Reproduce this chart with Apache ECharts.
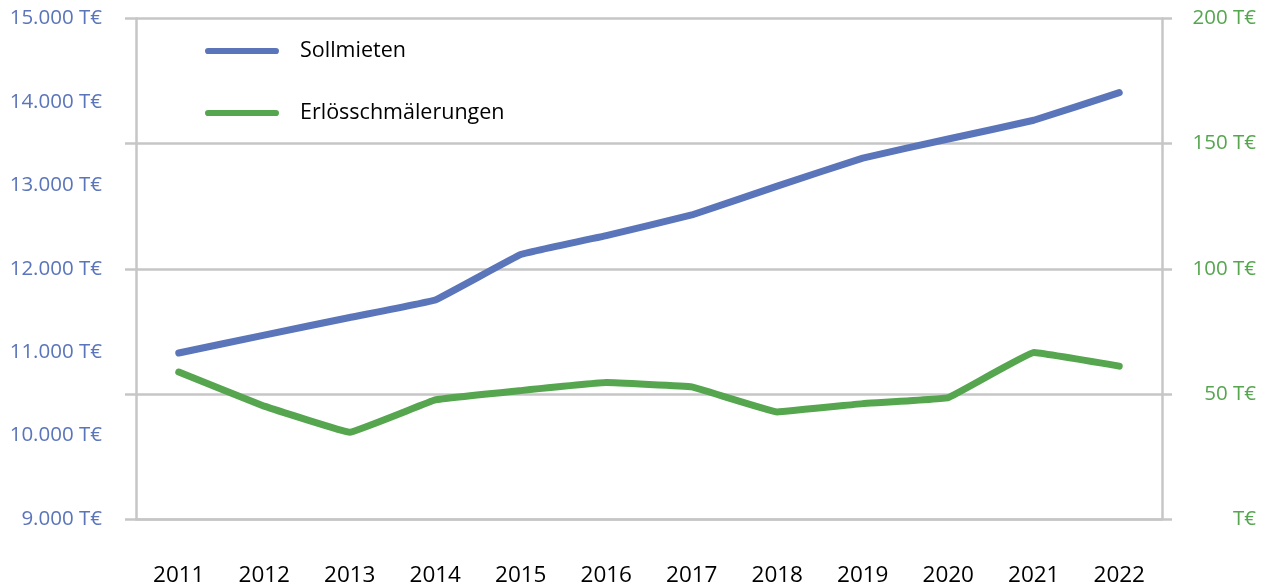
<!DOCTYPE html>
<html>
<head>
<meta charset="utf-8">
<script src="https://cdn.jsdelivr.net/npm/echarts@6/dist/echarts.min.js"></script>
<style>
html,body{margin:0;padding:0;background:#fff;}
#chart{width:1269px;height:587px;}
</style>
</head>
<body>
<div id="chart"></div>
<script>
const years = ['2011','2012','2013','2014','2015','2016','2017','2018','2019','2020','2021','2022'];
const sollmieten = [10990, 11205, 11415, 11625, 12170, 12398, 12645, 12990, 13327, 13555, 13780, 14112];
const erloesschmaelerungen = [58.7, 45.1, 34.7, 47.6, 51.3, 54.5, 52.8, 42.8, 46.1, 48.5, 66.5, 61.1];
const leftTicks = {min: 9000, max: 15000, interval: 1000};
const rightTicks = {min: 0, max: 200, interval: 50};

const BLUE = '#5b75bb';
const GREEN = '#55a64f';
const GRID = '#c6c6c6';
const FONT = '"Open Sans", sans-serif';

function fmtThousands(v){
  return String(v).replace(/\B(?=(\d{3})+(?!\d))/g, '.') + ' T€';
}

const chart = echarts.init(document.getElementById('chart'), null, {renderer:'canvas'});
chart.setOption({
  animation: false,
  backgroundColor: '#fff',
  grid: {left: 136, right: 107, top: 18.5, bottom: 67},
  legend: {
    orient: 'vertical',
    left: 200,
    top: 34,
    itemWidth: 74,
    itemHeight: 7,
    itemGap: 38,
    icon: 'path://M3,0 L69,0 A3,3 0 0 1 69,6 L3,6 A3,3 0 0 1 3,0 Z',
    textStyle: {fontFamily: FONT, fontSize: 21.5, color: '#000', lineHeight: 24, padding: [0,0,0,16]},
    data: ['Sollmieten', 'Erlösschmälerungen']
  },
  xAxis: {
    type: 'category',
    data: years,
    boundaryGap: true,
    axisLine: {show: true, lineStyle: {color: GRID, width: 2.5}},
    axisTick: {show: false},
    axisLabel: {fontFamily: FONT, fontSize: 22.5, color: '#000', margin: 45}
  },
  yAxis: [
    {
      type: 'value', position: 'left',
      min: leftTicks.min, max: leftTicks.max, interval: leftTicks.interval,
      axisLine: {show: false}, axisTick: {show: false}, splitLine: {show: false},
      axisLabel: {fontFamily: FONT, fontSize: 20.5, color: BLUE, margin: 34, formatter: fmtThousands}
    },
    {
      type: 'value', position: 'right',
      min: rightTicks.min, max: rightTicks.max, interval: rightTicks.interval,
      axisLine: {show: true, lineStyle: {color: GRID, width: 2.5}},
      axisTick: {show: true, inside: false, length: 10, lineStyle: {color: GRID, width: 2.5}},
      splitLine: {show: true, lineStyle: {color: GRID, width: 2.5}},
      axisLabel: {fontFamily: FONT, fontSize: 20.5, color: GREEN, align: 'right', margin: 94,
        formatter: v => v === 0 ? 'T€' : v + ' T€'}
    },
    {
      type: 'value', position: 'left',
      min: rightTicks.min, max: rightTicks.max, interval: rightTicks.interval,
      axisLine: {show: true, lineStyle: {color: GRID, width: 2.5}},
      axisTick: {show: true, inside: false, length: 11, lineStyle: {color: GRID, width: 2.5}},
      splitLine: {show: false},
      axisLabel: {show: false}
    }
  ],
  series: [
    {
      name: 'Sollmieten', type: 'line', yAxisIndex: 0, data: sollmieten,
      smooth: 0.06, showSymbol: false, symbol: 'none',
      lineStyle: {color: BLUE, width: 7, cap: 'round', join: 'round'},
      itemStyle: {color: BLUE}
    },
    {
      name: 'Erlösschmälerungen', type: 'line', yAxisIndex: 1, data: erloesschmaelerungen,
      smooth: 0.06, showSymbol: false, symbol: 'none',
      lineStyle: {color: GREEN, width: 7, cap: 'round', join: 'round'},
      itemStyle: {color: GREEN}
    }
  ]
});
</script>
</body>
</html>
